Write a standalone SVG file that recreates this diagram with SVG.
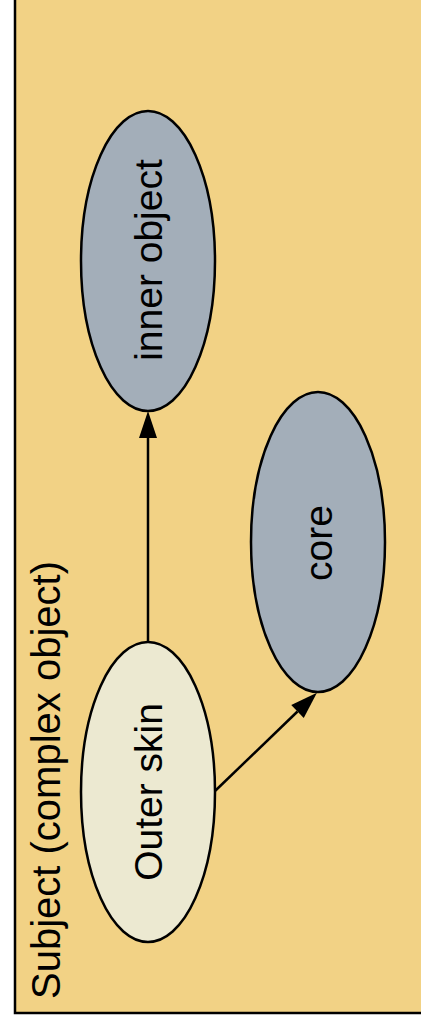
<svg xmlns="http://www.w3.org/2000/svg" width="421" height="1022" viewBox="0 0 421 1022">
<style>
.lbl{font-family:"Liberation Sans",Arial,sans-serif;font-size:39px;fill:#000}
.big{font-size:40px}
.node{stroke:#000;stroke-width:2.5}
.edge{stroke:#000;stroke-width:2.5;fill:none}
</style>
<defs>
<marker id="ah" markerUnits="userSpaceOnUse" markerWidth="28" markerHeight="20" refX="0" refY="9" orient="auto" overflow="visible">
<path d="M0,0 L27,9 L0,18 Z" fill="#000"/>
</marker>
</defs>
<rect width="421" height="1022" fill="#ffffff"/>
<g id="cluster_subject">
<rect x="15" y="-10" width="420" height="1023" fill="#f2d285" stroke="#000" stroke-width="2.5"/>
<text class="lbl big" transform="translate(60,999) rotate(-90)" text-anchor="start">Subject (complex object)</text>
</g>
<g id="edges">
<line class="edge" x1="148" y1="642" x2="148" y2="438" marker-end="url(#ah)"/>
<line class="edge" x1="215" y1="791" x2="297.5" y2="711.5" marker-end="url(#ah)"/>
</g>
<g id="node_inner">
<ellipse class="node" cx="148" cy="261" rx="67" ry="150" fill="#a3aeb9"/>
<text class="lbl" transform="translate(162,260) rotate(-90)" text-anchor="middle">inner object</text>
</g>
<g id="node_core">
<ellipse class="node" cx="318" cy="542" rx="67" ry="150" fill="#a3aeb9"/>
<text class="lbl" transform="translate(332,543) rotate(-90)" text-anchor="middle">core</text>
</g>
<g id="node_outer">
<ellipse class="node" cx="148" cy="792" rx="67" ry="150" fill="#ece9d1"/>
<text class="lbl" transform="translate(162,792) rotate(-90)" text-anchor="middle">Outer skin</text>
</g>
</svg>
